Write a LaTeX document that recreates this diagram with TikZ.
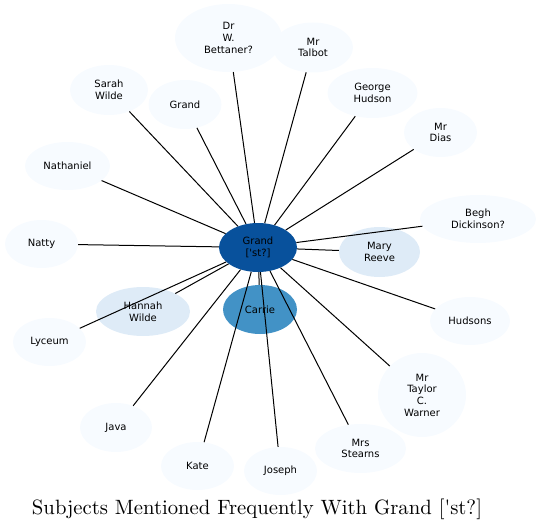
\documentclass[tikz,border=0pt]{standalone}
\usepackage{fontspec}
\newfontfamily\labfont{DejaVu Sans}[Ligatures=TeXOff]
\newfontfamily\titlefont{lmroman10-regular}[Extension=.otf, Ligatures=TeXOff]
\usetikzlibrary{shapes.geometric}
\definecolor{bcore}{RGB}{8,81,156}
\definecolor{bmid}{RGB}{66,146,198}
\definecolor{blite}{RGB}{222,235,247}
\definecolor{bpale}{RGB}{247,251,255}
\tikzset{
  blob/.style={ellipse, inner sep=0pt, draw=none},
  lab/.style={align=center, inner sep=0pt, font=\labfont\fontsize{10}{11.7}\selectfont, text=black},
  link/.style={draw=black, line width=1pt}
}
\begin{document}
\begin{tikzpicture}[x=1pt,y=-1pt]
\useasboundingbox (0,0) rectangle (541,532);
% node fills
\node[blob, fill=bcore, minimum width=78pt, minimum height=49pt] (g) at (258,247.5) {};
\node[blob, fill=bmid, minimum width=74pt, minimum height=49pt] (carrie) at (260,309.5) {};
\node[blob, fill=blite, minimum width=81pt, minimum height=50pt] (mary) at (379.5,252) {};
\node[blob, fill=blite, minimum width=94pt, minimum height=49pt] (hannah) at (143,311.5) {};
\node[blob, fill=bpale, minimum width=107pt, minimum height=68pt] (bett) at (228.5,38) {};
\node[blob, fill=bpale, minimum width=80pt, minimum height=50pt] (talbot) at (313,47.5) {};
\node[blob, fill=bpale, minimum width=90pt, minimum height=50pt] (george) at (372.5,93) {};
\node[blob, fill=bpale, minimum width=73pt, minimum height=49pt] (dias) at (440.5,132.5) {};
\node[blob, fill=bpale, minimum width=116pt, minimum height=48pt] (begh) at (478,219) {};
\node[blob, fill=bpale, minimum width=80pt, minimum height=48pt] (hudsons) at (470,321) {};
\node[blob, fill=bpale, minimum width=88pt, minimum height=84pt] (taylor) at (422,395) {};
\node[blob, fill=bpale, minimum width=91pt, minimum height=49pt] (stearns) at (360.5,448.5) {};
\node[blob, fill=bpale, minimum width=73pt, minimum height=48pt] (joseph) at (280.5,471) {};
\node[blob, fill=bpale, minimum width=73pt, minimum height=48pt] (kate) at (197.5,466) {};
\node[blob, fill=bpale, minimum width=72pt, minimum height=49pt] (java) at (116,427.5) {};
\node[blob, fill=bpale, minimum width=73pt, minimum height=48pt] (lyceum) at (49.5,342) {};
\node[blob, fill=bpale, minimum width=73pt, minimum height=48pt] (natty) at (41.5,244) {};
\node[blob, fill=bpale, minimum width=85pt, minimum height=48pt] (nath) at (67.5,166) {};
\node[blob, fill=bpale, minimum width=78pt, minimum height=50pt] (sarah) at (109,90) {};
\node[blob, fill=bpale, minimum width=73pt, minimum height=49pt] (grand) at (185,104.5) {};
% connectors
\foreach \t in {carrie,mary,hannah,bett,talbot,george,dias,begh,hudsons,taylor,stearns,joseph,kate,java,lyceum,natty,nath,sarah,grand}
  \draw[link] (g) -- (\t);
% labels
\node[lab] (gl) at (g.center) {Grand\\{}['st?]};
\node[lab] (carriel) at (carrie.center) {Carrie};
\node[lab] (maryl) at (mary.center) {Mary\\Reeve};
\node[lab] (hannahl) at (hannah.center) {Hannah\\Wilde};
\node[lab] (bettl) at (bett.center) {Dr\\W.\\Bettaner?};
\node[lab] (talbotl) at (talbot.center) {Mr\\Talbot};
\node[lab] (georgel) at (george.center) {George\\Hudson};
\node[lab] (diasl) at (dias.center) {Mr\\Dias};
\node[lab] (beghl) at (begh.center) {Begh\\Dickinson?};
\node[lab] (hudsonsl) at (hudsons.center) {Hudsons};
\node[lab] (taylorl) at (taylor.center) {Mr\\Taylor\\C.\\Warner};
\node[lab] (stearnsl) at (stearns.center) {Mrs\\Stearns};
\node[lab] (josephl) at (joseph.center) {Joseph};
\node[lab] (katel) at (kate.center) {Kate};
\node[lab] (javal) at (java.center) {Java};
\node[lab] (lyceuml) at (lyceum.center) {Lyceum};
\node[lab] (nattyl) at (natty.center) {Natty};
\node[lab] (nathl) at (nath.center) {Nathaniel};
\node[lab] (sarahl) at (sarah.center) {Sarah\\Wilde};
\node[lab] (grandl) at (grand.center) {Grand};
% title
\node[font=\titlefont, inner sep=0pt, anchor=base] (title) at (257,514) {\resizebox{450pt}{!}{Subjects Mentioned Frequently With Grand ['st?]}};
\end{tikzpicture}
\end{document}
